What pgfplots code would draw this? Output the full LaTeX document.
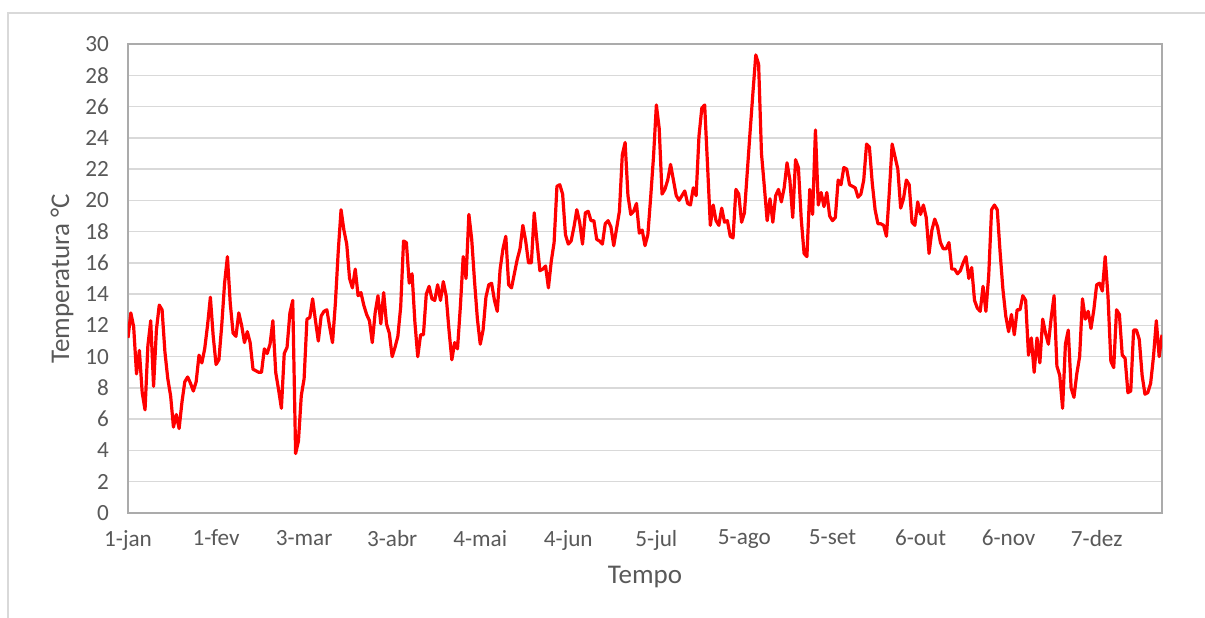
\documentclass[border=0pt]{standalone}
\usepackage{pgfplots}
\usepackage{pgfplotstable}
\usepackage{fontspec}
\pgfplotsset{compat=1.18}
\setmainfont{Carlito}
\definecolor{txt}{HTML}{595959}
\definecolor{gridc}{HTML}{D9D9D9}
\definecolor{boxc}{HTML}{ABABAB}

% daily mean temperature, one value per day from 1-jan
\pgfplotstableread[row sep=\\]{
t\\
11.2\\12.8\\11.9\\8.9\\10.4\\7.7\\6.6\\10.7\\12.3\\8.1\\11.7\\13.3\\13.0\\10.3\\8.6\\
7.5\\5.5\\6.3\\5.4\\7.1\\8.4\\8.7\\8.3\\7.8\\8.4\\10.1\\9.6\\10.5\\12.0\\13.8\\
11.3\\9.5\\9.8\\12.0\\14.7\\16.4\\13.4\\11.5\\11.3\\12.8\\12.0\\10.9\\11.6\\10.9\\9.2\\
9.1\\9.0\\9.0\\10.5\\10.2\\10.8\\12.3\\9.0\\7.9\\6.7\\10.2\\10.6\\12.8\\13.6\\3.8\\
4.6\\7.5\\8.6\\12.4\\12.5\\13.7\\12.3\\11.0\\12.6\\12.9\\13.0\\11.9\\10.9\\13.4\\16.7\\
19.4\\18.1\\17.2\\15.0\\14.4\\15.6\\13.9\\14.1\\13.3\\12.7\\12.3\\10.9\\12.8\\13.9\\12.1\\
14.1\\12.1\\11.5\\10.0\\10.6\\11.3\\13.2\\17.4\\17.3\\14.7\\15.3\\12.2\\10.0\\11.4\\11.4\\
14.0\\14.5\\13.7\\13.6\\14.6\\13.6\\14.8\\13.9\\11.7\\9.8\\10.9\\10.5\\13.2\\16.4\\15.0\\
19.1\\17.5\\14.8\\12.4\\10.8\\11.7\\13.8\\14.6\\14.7\\13.6\\12.9\\15.6\\16.9\\17.7\\14.6\\
14.4\\15.3\\16.2\\16.9\\18.4\\17.4\\16.0\\16.0\\19.2\\17.3\\15.5\\15.6\\15.8\\14.4\\16.1\\
17.3\\20.9\\21.0\\20.4\\17.8\\17.2\\17.4\\18.3\\19.4\\18.6\\17.2\\19.2\\19.3\\18.7\\18.7\\
17.5\\17.4\\17.2\\18.5\\18.7\\18.3\\17.1\\18.2\\19.3\\22.9\\23.7\\20.3\\19.1\\19.3\\19.8\\
17.9\\18.1\\17.1\\17.8\\20.2\\22.8\\26.1\\24.6\\20.4\\20.7\\21.3\\22.3\\21.3\\20.3\\20.0\\
20.3\\20.6\\19.8\\19.7\\20.8\\20.3\\24.1\\25.9\\26.1\\22.3\\18.4\\19.7\\18.7\\18.4\\19.5\\
18.6\\18.7\\17.7\\17.6\\20.7\\20.4\\18.6\\19.2\\21.8\\24.4\\26.9\\29.3\\28.7\\23.0\\20.9\\
18.7\\20.1\\18.6\\20.3\\20.7\\19.9\\20.8\\22.4\\21.3\\18.9\\22.6\\22.1\\18.8\\16.6\\16.4\\
20.7\\19.1\\24.5\\19.7\\20.5\\19.6\\20.5\\19.0\\18.7\\18.9\\21.3\\21.0\\22.1\\22.0\\21.0\\
20.9\\20.8\\20.2\\20.4\\21.3\\23.6\\23.4\\21.1\\19.4\\18.5\\18.5\\18.4\\17.7\\20.5\\23.6\\
22.8\\22.0\\19.5\\20.1\\21.3\\21.0\\18.6\\18.4\\19.9\\19.1\\19.7\\18.9\\16.6\\18.1\\18.8\\
18.3\\17.3\\16.9\\16.9\\17.3\\15.6\\15.6\\15.3\\15.5\\16.0\\16.4\\15.0\\15.7\\13.6\\13.1\\
12.9\\14.5\\12.9\\15.2\\19.4\\19.7\\19.4\\16.7\\14.3\\12.6\\11.6\\12.7\\11.4\\13.0\\13.0\\
13.9\\13.6\\10.1\\11.2\\9.0\\11.2\\9.6\\12.4\\11.5\\10.8\\12.5\\13.9\\9.4\\8.8\\6.7\\
10.8\\11.7\\8.0\\7.4\\8.9\\10.0\\13.7\\12.4\\12.9\\11.8\\13.0\\14.6\\14.7\\14.2\\16.4\\
13.8\\9.7\\9.3\\13.0\\12.7\\10.1\\9.9\\7.7\\7.8\\11.7\\11.7\\11.1\\8.8\\7.6\\7.7\\
8.3\\10.0\\12.3\\10.0\\11.4\\
}\temps

\begin{document}
\begin{tikzpicture}
\useasboundingbox (-64pt,-52pt) rectangle (538.5pt,256.5pt);
\draw[gridc, line width=0.75pt] (-60pt,-60pt) -- (-60pt,250pt) -- (545pt,250pt);
\begin{axis}[
  at={(0,0)}, anchor=south west,
  scale only axis, width=517pt, height=234.5pt,
  xmin=0, xmax=364, ymin=0, ymax=30,
  xtick={0,31,62,93,124,155,186,217,248,279,310,341},
  xticklabels={1-jan,1-fev,3-mar,3-abr,4-mai,4-jun,5-jul,5-ago,5-set,6-out,6-nov,7-dez},
  ytick={0,2,...,30},
  major tick length=0pt,
  ymajorgrids, grid style={gridc, line width=0.75pt},
  axis line style={boxc, line width=0.75pt},
  tick label style={font=\fontsize{11.6}{13}\selectfont, text=txt},
  /pgf/number format/assume math mode=true,
  xticklabel style={yshift=-5pt},
  yticklabel style={xshift=-6pt},
  xlabel={Tempo}, ylabel={Temperatura °C},
  label style={font=\fontsize{13.5}{15}\selectfont, text=txt},
  xlabel style={at={(axis description cs:0.5,-0.1365)}, anchor=center},
  ylabel style={at={(axis description cs:-0.0638,0.5)}, anchor=center},
]
\addplot[red, line width=1.6pt, line join=round, no markers]
  table[x expr=\coordindex, y=t] {\temps};
\end{axis}
\end{tikzpicture}
\end{document}
